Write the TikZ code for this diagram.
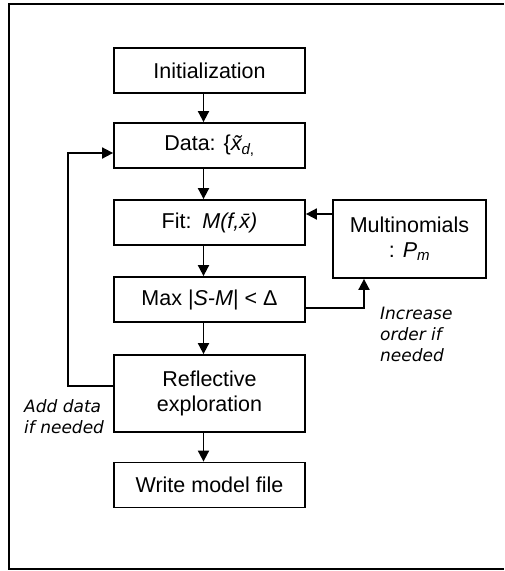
\documentclass[tikz,border=0pt]{standalone}
\usepackage{fontspec}
\setmainfont{Liberation Sans}
\newfontfamily\notefont{DejaVu Sans}
\usetikzlibrary{arrows.meta}

\begin{document}
\begin{tikzpicture}[x=1pt,y=-1pt,
  box/.style={draw,line width=1.8pt,minimum width=191pt,minimum height=45pt,
    inner sep=0pt,align=center,font=\fontsize{21.5}{25}\selectfont},
  wire/.style={line width=1.8pt},
  arr/.style={wire,-{Triangle[length=11pt,width=11pt]}},
  note/.style={inner sep=0pt,align=left,
    font=\notefont\itshape\fontsize{17}{21}\selectfont}]
\useasboundingbox (0,0) rectangle (504,571);

% outer frame (open on the right)
\draw[wire] (504,569) -- (9,569) -- (9,4) -- (504,4);

% main flow
\node[box] (init) at (209.5,70.5) {Initialization};
\node[box] (data) at (209.5,145.5) {Data: \{\textit{\~{x}}\textsubscript{\textit{d},}};
\node[box] (fit)  at (209.5,222.5) {Fit:\enspace\textit{M(f,\={x})}};
\node[box] (max)  at (209.5,299.5) {Max |\textit{S-M}| < Δ};
\node[box,minimum height=77pt] (refl) at (209.5,393.5) {Reflective\\exploration};
\node[box] (write) at (209.5,485) {Write model file};
\node[box,minimum width=153pt,minimum height=78pt] (multi) at (409.5,239)
  {Multinomials\\: \textit{P}\textsubscript{\textit{m}}};

% vertical arrows
\draw[arr] ([xshift=-6pt]init.south) -- ([xshift=-6pt]data.north);
\draw[arr] ([xshift=-6pt]data.south) -- ([xshift=-6pt]fit.north);
\draw[arr] ([xshift=-6pt]fit.south)  -- ([xshift=-6pt]max.north);
\draw[arr] ([xshift=-6pt]max.south)  -- ([xshift=-6pt]refl.north);
\draw[arr] ([xshift=-6pt]refl.south) -- ([xshift=-6pt]write.north);

% feedback loops
\coordinate (lo) at (68,386);
\coordinate (hi) at (68,153);
\draw[arr] (refl.west |- lo) -- (lo) -- (hi) -- (data.west |- hi);
\coordinate (up) at (364,308);
\draw[arr] (max.east |- up) -- (up) -- (multi.south -| up);
\coordinate (in) at (409.5,214);
\draw[arr] (multi.west |- in) -- (fit.east |- in);

% notes
\node[note,anchor=north west] (inc) at (380,307) {Increase\\order if\\needed};
\node[note,anchor=north west] (add) at (24,399) {Add data\\if needed};
\end{tikzpicture}
\end{document}
